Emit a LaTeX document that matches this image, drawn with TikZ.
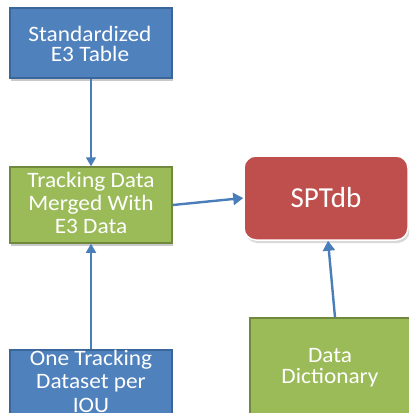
\documentclass[tikz,border=0pt]{standalone}
\usepackage{fontspec}
\setmainfont{Carlito}
\newfontfamily\boxfont[FakeStretch=1.06]{Carlito}
\usetikzlibrary{arrows.meta,shadows}
\definecolor{boxblue}{HTML}{4F81BD}
\definecolor{blueedge}{HTML}{3A6699}
\definecolor{boxgreen}{HTML}{9BBB59}
\definecolor{greenedge}{HTML}{71893F}
\definecolor{boxred}{HTML}{BE4F4C}
\definecolor{arrowblue}{HTML}{4A7EBB}
\tikzset{
  flowbox/.style={draw, line width=1.5pt, inner sep=0pt,
    drop shadow={shadow xshift=1pt, shadow yshift=-2.5pt, fill=black!35, opacity=0.6}},
  bluebox/.style={flowbox, fill=boxblue, draw=blueedge},
  greenbox/.style={flowbox, fill=boxgreen, draw=greenedge},
  boxtext/.style={text=white, align=center, anchor=base, inner sep=0pt},
  dbbox/.style={draw=white, line width=1.5pt, fill=boxred, rounded corners=12pt, text=white,
    font=\fontsize{29}{32}\selectfont, inner sep=0pt,
    drop shadow={shadow xshift=1.5pt, shadow yshift=-3pt, fill=black!25, opacity=0.6}},
  flow/.style={draw=arrowblue, line width=2.4pt, -{Triangle[length=10pt,width=12pt]}},
  thinflow/.style={draw=arrowblue, line width=1.5pt, -{Triangle[length=9pt,width=10pt]}},
}
\begin{document}
\begin{tikzpicture}[x=1pt,y=-1pt]
  \useasboundingbox[fill=white] (0,0) rectangle (409,413);
  \begin{scope}
  \clip (0,0) rectangle (409,413);
  % boxes
  \node[bluebox, minimum width=162pt, minimum height=70pt] (e3) at (91,43) {};
  \node[greenbox, minimum width=162pt, minimum height=76pt] (merge) at (91,205) {};
  \node[bluebox, minimum width=162pt, minimum height=76pt] (iou) at (91,388) {};
  \node[dbbox, minimum width=164pt, minimum height=84pt] (db) at (326,198) {SPTdb};
  \node[greenbox, minimum width=160pt, minimum height=110pt] (dict) at (330,373) {};
  % box captions (anchored at the baseline of their last line)
  \node[boxtext, font=\boxfont\fontsize{22}{20}\selectfont] (e3text) at (90,61) {Standardized\\E3 Table};
  \node[boxtext, font=\boxfont\fontsize{22}{23}\selectfont] (mergetext) at (91,233) {Tracking Data\\Merged With\\E3 Data};
  \node[boxtext, font=\boxfont\fontsize{22}{23.5}\selectfont] (ioutext) at (91,412) {One Tracking\\Dataset per\\IOU};
  \node[boxtext, font=\boxfont\fontsize{22}{20.5}\selectfont] (dicttext) at (330,383) {Data\\Dictionary};
  \end{scope}
  % connectors
  \draw[thinflow] (e3.south) -- (merge.north);
  \draw[thinflow] (iou.north) -- (merge.south);
  \draw[flow] (merge.east) -- (db.west);
  \draw[flow] (dict.north -| 335,0) -- (db.south -| 328,0);
\end{tikzpicture}
\end{document}
